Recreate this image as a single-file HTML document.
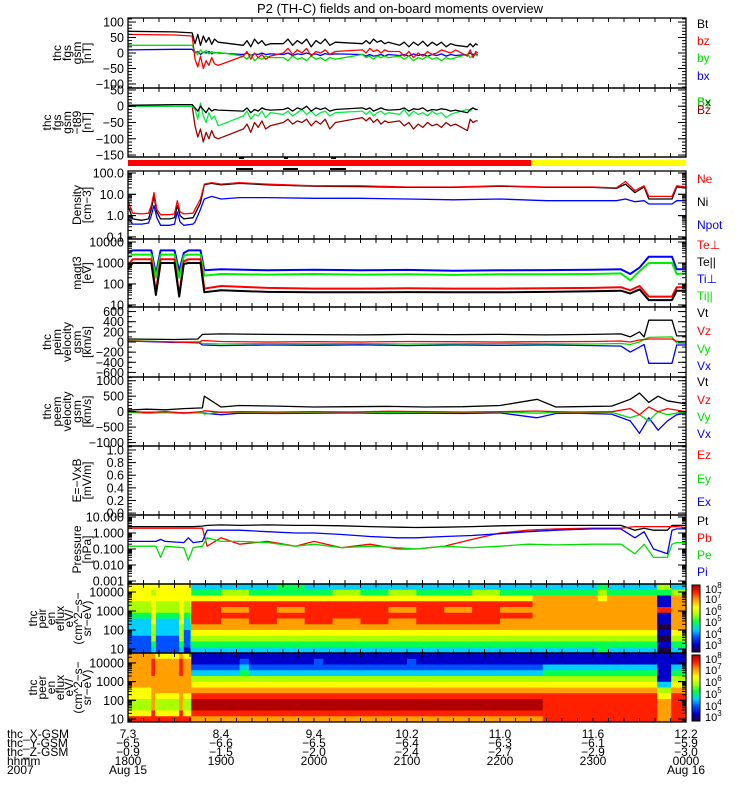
<!DOCTYPE html>
<html><head><meta charset="utf-8"><title>P2 (TH-C) overview</title>
<style>
html,body{margin:0;padding:0;background:#fff;}
svg{display:block;font-family:"Liberation Sans",sans-serif;}
</style></head>
<body>
<svg id="chart" width="750" height="800" viewBox="0 0 750 800" xmlns="http://www.w3.org/2000/svg">
<rect x="0" y="0" width="750" height="800" fill="#fff"/>
<text x="400" y="13" text-anchor="middle" font-size="13">P2 (TH-C) fields and on-board moments overview</text>
</svg>
<script>
// ---------- data (hours after 18:00 UT) ----------
const T1 = [0,0.5,0.69, 0.72,0.75,0.78,0.81,0.84,0.87,0.9,0.93,0.97, 1.24,1.28,1.32,1.36,1.4,1.44,1.48,1.53, 1.67,1.72,1.77,1.82,1.87,1.92,1.97,2.02,2.07,2.12,2.17,2.23, 2.52,2.56,2.6,2.64,2.68,2.72,2.76,2.8, 2.92,2.97,3.02,3.07,3.12,3.17,3.22,3.27,3.32,3.37,3.42,3.47,3.52, 3.65,3.68,3.71,3.74,3.76];
const fgsBt = [70,68,65, 30,60,25,55,35,50,28,45,35, 25,40,20,45,30,40,25,30, 30,45,25,40,30,45,20,40,30,45,25,35, 30,40,30,45,35,40,30,35, 25,35,20,35,25,38,22,35,25,35,20,30,25, 20,30,20,30,25];
const fgsBz = [60,58,55, -20,-45,-10,-50,-25,-40,-15,-35,-40, -10,5,-20,0,-15,-5,-20,-10, 0,15,-5,10,0,15,-10,5,0,10,-5,5, 10,0,15,5,10,0,10,5, 5,-10,5,-15,0,-10,5,-5,0,10,5,0,10, -10,10,-15,5,0];
const fgsBy = [25,25,25, 5,-5,10,0,8,-3,5,0,2, -10,-20,-5,-25,-15,-20,-10,-15, -15,-25,-10,-20,-15,-25,-10,-20,-15,-25,-15,-20, -5,-15,-10,-20,-10,-15,-10,-15, -10,-20,-10,-25,-15,-20,-10,-20,-15,-25,-15,-20,-15, -5,-15,-10,-5,-10];
const fgsBx = [10,12,12, 0,5,-5,3,0,5,-3,2,0, -5,0,-8,-3,-5,0,-5,-3, -5,0,-8,-3,-5,0,-5,-3,-8,-2,-5,-3, -5,-10,-5,-10,-8,-5,-10,-5, -8,-5,-10,-3,-8,-5,-10,-5,-8,-3,-10,-5,-8, -5,0,-5,-3,-5];
const t89Bx = [3,5,5, -5,-15,0,-10,-20,-5,-15,-10,-12, -15,-5,-20,-10,-15,-5,-10,-12, -10,-5,-15,-5,-10,0,-15,-5,-10,-5,-15,-10, -5,-10,-5,-15,-10,-5,-10,-12, -10,-5,-15,-8,-10,-5,-15,-10,-12,-8,-10,-15,-12, -20,-10,-5,-10,-10];
const t89By = [0,0,0, -10,-40,10,-30,-50,-20,-40,-30,-60, -30,-15,-40,-25,-30,-15,-35,-20, -25,-15,-30,-20,-10,-25,-15,-30,-20,-15,-30,-20, -15,-25,-15,-30,-20,-15,-25,-20, -25,-10,-30,-15,-25,-20,-30,-15,-25,-20,-35,-25,-20, -10,-15,-5,-10,-10];
const t89Bz = [0,0,0, -60,-95,-70,-110,-80,-100,-75,-95,-100, -70,-55,-80,-50,-65,-45,-70,-60, -50,-40,-55,-45,-50,-40,-60,-45,-55,-40,-70,-50, -35,-45,-35,-50,-40,-55,-45,-50, -45,-60,-50,-70,-55,-65,-50,-60,-55,-65,-50,-60,-55, -75,-40,-50,-45,-45];

const T3 = [0,0.05,0.15,0.22,0.25,0.28,0.31,0.35,0.45,0.5,0.53,0.56,0.6,0.7,0.72,0.78,0.82,0.9,1.0,1.2,1.5,2.0,2.5,3.0,3.5,4.0,4.5,5.0,5.25,5.35,5.45,5.55,5.6,5.85,5.9,6.0];
const densNe = [5,1.3,1.2,1.3,3,12,2,1.1,1.1,1.2,5,1.5,1.2,1.3,2,6,30,35,30,35,30,25,25,22,22,25,22,22,20,40,15,25,8,8,25,22];
const densNi = [3,0.7,0.6,0.7,2,8,1.5,0.7,0.7,0.8,3,1,0.7,0.8,1.2,4,28,33,28,33,28,24,23,21,21,24,21,21,19,30,12,22,6,6,22,20];
const densNpot = [0.8,0.4,0.4,0.45,1,3,0.8,0.35,0.35,0.4,1.5,0.5,0.35,0.4,0.5,2,6,8,6,7,7,6.5,6.5,6,5.5,6,5,5,5,6,4.5,5,3.5,3.5,5,5];

const T4 = [0,0.05,0.25,0.3,0.35,0.5,0.55,0.6,0.65,0.78,0.82,1.0,1.5,2.0,2.5,3.0,3.5,4.0,4.5,5.0,5.3,5.4,5.5,5.6,5.85,5.9,6.0];
const tempTiPerp = [3000,4000,4000,300,4000,4000,400,3000,4000,4000,450,500,450,480,450,470,430,450,460,480,500,300,600,2000,2000,500,500];
const tempTiPar = [2000,2500,2500,200,2500,2500,200,2200,2500,2500,250,300,280,300,280,290,270,290,290,300,320,150,400,1000,1000,300,320];
const tempTePerp = [800,1500,1500,40,1500,1500,30,1200,1500,1500,60,80,65,60,60,62,60,60,62,65,70,50,80,25,25,70,70];
const tempTePar = [500,1000,1000,30,1000,1000,25,900,1000,1000,40,50,42,40,40,41,40,40,42,45,48,35,55,17,17,48,48];

const T5 = [0,0.5,0.75,0.8,1.0,1.5,2.0,2.5,3.0,3.5,4.0,4.5,5.0,5.3,5.4,5.5,5.55,5.6,5.85,5.9,6.0];
const peimVt = [60,50,60,150,160,150,145,140,150,145,150,140,150,160,100,200,100,430,430,120,120];
const peimVz = [20,0,-20,30,10,0,5,0,10,5,0,5,10,20,0,40,50,60,60,10,10];
const peimVy = [30,0,10,-30,-40,-30,-35,-30,-40,-35,-30,-35,-40,-30,-50,0,50,90,100,-20,-30];
const peimVx = [20,-10,0,-60,-70,-60,-65,-55,-70,-60,-65,-60,-70,-80,-200,-100,-50,-420,-420,-60,-60];

const T6 = [0,0.2,0.4,0.6,0.8,0.82,1.0,1.2,1.6,2.0,2.4,2.8,3.2,3.6,4.0,4.4,4.6,4.8,5.2,5.4,5.5,5.6,5.7,5.8,5.9,6.0];
const peemVt = [50,80,60,100,120,500,150,200,180,150,160,170,150,160,200,400,150,160,180,400,600,300,500,350,300,250];
const peemVz = [20,-30,0,-40,0,30,-20,0,-10,0,-10,10,0,-10,0,20,0,-10,0,100,-100,150,0,100,50,0];
const peemVy = [-20,-50,-30,-60,-20,-80,-10,-20,-30,-20,-10,-30,-20,-20,-10,-50,-20,-30,-20,-200,-100,-300,0,-100,-50,-20];
const peemVx = [0,-20,-10,-40,-30,-50,-100,-50,-60,-50,-40,-60,-50,-60,-40,-200,-60,-50,-80,-300,-700,-200,-600,-300,-100,-50];

const T8 = [0,0.3,0.35,0.4,0.6,0.65,0.7,0.8,0.85,1.0,1.2,1.5,1.8,2.0,2.3,2.6,2.9,3.1,3.4,3.7,4.0,4.3,4.6,5.0,5.3,5.45,5.55,5.65,5.8,5.85,5.9,6.0];
const presPt = [2.5,2.5,2.5,2.5,2.5,2.5,2.5,2.7,3,3.2,3,3.2,3,3,2.8,2.5,2.3,2.2,2.3,2.5,2.8,3,3,3,3,1.5,2,1.5,1.5,3,3,3];
const presPb = [2,2,2,2,2,2,2,2,0.15,0.5,0.2,0.3,0.15,0.3,0.12,0.2,0.1,0.1,0.15,0.4,1,1.5,1.8,2,2,2.5,2.5,2.5,2.5,2.5,2.5,2.2];
const presPe = [0.15,0.15,0.03,0.15,0.12,0.02,0.12,0.15,0.5,0.3,0.3,0.25,0.15,0.2,0.12,0.15,0.12,0.1,0.15,0.12,0.15,0.2,0.18,0.2,0.2,0.05,0.2,0.03,0.03,0.2,0.25,0.25];
const presPi = [0.3,0.3,0.4,0.3,0.25,0.5,0.25,0.3,1.5,1.5,1.5,1.2,1,1,0.8,0.6,0.5,0.5,0.6,0.7,0.9,1.2,1.5,1.8,1.8,0.5,1.2,0.1,0.05,1.5,1.8,1.8];

// spectrogram segments: start time, profile (top=high energy -> bottom), color level 0..9
const ionSegT = [0,0.25,0.3,0.55,0.6,0.67,0.68,1.0,1.3,1.6,1.9,2.2,2.5,2.8,3.1,3.4,3.7,4.0,4.35,5.05,5.15,5.69,5.84];
const ionSegP = ["666554333222","656666655543","666554333222","666666655543","666554332221","666655544433","346888876543","356878776543","346888876543","446878776543","346888876543","356888776543","346888876543","356878776543","346888876543","346878876543","356888876543","346878776543","347777776543","456777776544","347777776543","541181101010","357777776543"];
const eleSegT = [0,0.25,0.29,0.55,0.59,0.68,1.2,1.3,2.0,2.1,3.0,3.1,4.46,5.69,5.84];
const eleSegP = ["777777665568","788877777788","677777765568","788877777788","677777765568","112356789987","123456789987","112356789987","122356789987","112356789987","122356789987","112356789987","113456788888","111113567777","113456788888"];

const tickX = ["7.3","8.4","9.4","10.2","11.0","11.6","12.2"];
const tickY = ["−6.5","−6.6","−6.5","−6.4","−6.3","−6.1","−5.9"];
const tickZ = ["−0.9","−1.5","−2.0","−2.4","−2.7","−2.9","−3.0"];
const tickHHMM = ["1800","1900","2000","2100","2200","2300","0000"];

// ---------- rendering ----------
const NS = "http://www.w3.org/2000/svg";
const svg = document.getElementById('chart');
const L = 128, R = 686, HOUR = (R - L) / 6;
function X(t){ return L + t * HOUR; }
function mk(tag, attrs, parent){ const e = document.createElementNS(NS, tag); for (const k in attrs) e.setAttribute(k, attrs[k]); (parent||svg).appendChild(e); return e; }
function linAxis(lo,hi,top,bot){ return v => bot - (v-lo)/(hi-lo)*(bot-top); }
function logAxis(lo,hi,top,bot){ const a=Math.log10(lo), b=Math.log10(hi); return v => bot - (Math.log10(v)-a)/(b-a)*(bot-top); }
const CM = ["#200040","#0000c8","#0050ff","#00d0ff","#00ff50","#a8ff00","#ffff00","#ffa000","#ff2000","#b00000"];

const panels = [
 {name:'fgs-gsm', top:18, bot:88, type:'lin', lo:-113, hi:113, labels:[[100,'100'],[50,'50'],[0,'0'],[-50,'−50'],[-100,'−100']], minor:10, title:['thc','fgs','gsm','[nT]']},
 {name:'fgs-gsm-t89', top:88, bot:157, type:'lin', lo:-156, hi:56, labels:[[50,'50'],[0,'0'],[-50,'−50'],[-100,'−100'],[-150,'−150']], minor:10, title:['thc','fgs','gsm','−t89','[nT]']},
 {name:'density', top:171, bot:239, type:'log', lo:0.08, hi:124, labels:[[100,'100.0'],[10,'10.0'],[1,'1.0'],[0.1,'0.1']], title:['Density','[cm−3]']},
 {name:'temperature', top:239, bot:307, type:'log', lo:8, hi:13900, labels:[[10000,'10000'],[1000,'1000'],[100,'100'],[10,'10']], title:['magt3','[eV]']},
 {name:'peim-velocity', top:307, bot:377, type:'lin', lo:-690, hi:690, labels:[[600,'600'],[400,'400'],[200,'200'],[0,'0'],[-200,'−200'],[-400,'−400'],[-600,'−600']], minor:100, title:['thc','peim','velocity','gsm','[km/s]']},
 {name:'peem-velocity', top:377, bot:446, type:'lin', lo:-1110, hi:1120, labels:[[1000,'1000'],[500,'500'],[0,'0'],[-500,'−500'],[-1000,'−1000']], minor:100, title:['thc','peem','velocity','gsm','[km/s]']},
 {name:'e-field', top:446, bot:515, type:'lin', lo:-0.03, hi:1.063, labels:[[1,'1.0'],[0.8,'0.8'],[0.6,'0.6'],[0.4,'0.4'],[0.2,'0.2'],[0,'0.0']], minor:0.05, title:['E=−VxB','[mV/m]']},
 {name:'pressure', top:515, bot:584, type:'log', lo:0.00065, hi:13.3, labels:[[10,'10.000'],[1,'1.000'],[0.1,'0.100'],[0.01,'0.010'],[0.001,'0.001']], title:['Pressure','[nPa]']},
 {name:'ion-spectrogram', top:584, bot:653, type:'log', lo:6.2, hi:26300, labels:[[10000,'10000'],[1000,'1000'],[100,'100'],[10,'10']], title:['thc','peir','en','eflux','eV/','(cm^2−s−','sr−eV)']},
 {name:'electron-spectrogram', top:653, bot:722, type:'log', lo:6.9, hi:34000, labels:[[10000,'10000'],[1000,'1000'],[100,'100'],[10,'10']], title:['thc','peer','en','eflux','eV/','(cm^2−s−','sr−eV)']}
];
panels.forEach(p => { p.y = p.type==='lin' ? linAxis(p.lo,p.hi,p.top,p.bot) : logAxis(p.lo,p.hi,p.top,p.bot); });

// spectrograms
function drawSpec(p, segT, segP, nm){
  const g = mk('g', {});
  
  
  for (let i=0;i<segT.length;i++){
    const x0 = X(segT[i]), x1 = i+1<segT.length ? X(segT[i+1]) : R;
    const prof = segP[i], n = prof.length, h = (p.bot-p.top)/n;
    for (let r=0;r<n;r++){
      const c = mk('rect', {x:x0.toFixed(2), y:(p.top+r*h).toFixed(2), width:(x1-x0+0.4).toFixed(2), height:(h+0.4).toFixed(2), fill:CM[+prof[r]]}, g);
      
      
    }
  }
}
drawSpec(panels[8], ionSegT, ionSegP, 'ion-eflux-heatmap');
drawSpec(panels[9], eleSegT, eleSegP, 'electron-eflux-heatmap');

// series
function series(p, T, V, color, nm, w){
  const pts = T.map((t,i)=> X(t).toFixed(1)+','+p.y(V[i]).toFixed(1)).join(' ');
  const e = mk('polyline', {points:pts, fill:'none', stroke:color, 'stroke-width':w||1.3, 'stroke-linejoin':'round'});
  
  
}
const P = panels;
series(P[0],T1,fgsBx,'#0000ff','bx-line'); series(P[0],T1,fgsBy,'#00e000','by-line'); series(P[0],T1,fgsBz,'#ff0000','bz-line'); series(P[0],T1,fgsBt,'#000','bt-line');
series(P[1],T1,t89Bz,'#990000','t89-bz-line'); series(P[1],T1,t89By,'#00ee40','t89-by-line'); series(P[1],T1,t89Bx,'#000','t89-bx-line');
series(P[2],T3,densNpot,'#0000ff','npot-line'); series(P[2],T3,densNi,'#000','ni-line'); series(P[2],T3,densNe,'#ff0000','ne-line');
series(P[3],T4,tempTiPerp,'#0000ff','ti-perp-line',2); series(P[3],T4,tempTiPar,'#00ee00','ti-par-line',2); series(P[3],T4,tempTePerp,'#ff0000','te-perp-line',2); series(P[3],T4,tempTePar,'#000','te-par-line',2);
series(P[4],T5,peimVx,'#0000ff','peim-vx-line'); series(P[4],T5,peimVy,'#00e000','peim-vy-line'); series(P[4],T5,peimVz,'#ff0000','peim-vz-line'); series(P[4],T5,peimVt,'#000','peim-vt-line');
series(P[5],T6,peemVx,'#0000ff','peem-vx-line'); series(P[5],T6,peemVy,'#00e000','peem-vy-line'); series(P[5],T6,peemVz,'#ff0000','peem-vz-line'); series(P[5],T6,peemVt,'#000','peem-vt-line');
series(P[7],T8,presPt,'#000','pt-line'); series(P[7],T8,presPb,'#ff0000','pb-line'); series(P[7],T8,presPe,'#00e000','pe-line'); series(P[7],T8,presPi,'#0000ff','pi-line');

// frames, ticks, labels
panels.forEach(p => {
  const g = mk('g', {});
  
  
  mk('rect', {x:L, y:p.top, width:R-L, height:p.bot-p.top, fill:'none', stroke:'#000', 'stroke-width':1.3}, g);
  for (let k=0;k<=36;k++){ const x=L+k*HOUR/6;
    mk('line',{x1:x,y1:p.top,x2:x,y2:p.top+4,stroke:'#000'},g); mk('line',{x1:x,y1:p.bot,x2:x,y2:p.bot-4,stroke:'#000'},g); }
  const tick=(y,len)=>{ if(y<p.top-0.5||y>p.bot+0.5) return; mk('line',{x1:L,y1:y,x2:L+len,y2:y,stroke:'#000'},g); mk('line',{x1:R,y1:y,x2:R-len,y2:y,stroke:'#000'},g); };
  if (p.type==='lin'){
    for (let v=Math.ceil(p.lo/p.minor)*p.minor; v<=p.hi; v+=p.minor) tick(p.y(v),4);
  } else {
    for (let d=Math.floor(Math.log10(p.lo)); d<=Math.ceil(Math.log10(p.hi)); d++)
      for (let m=1;m<10;m++){ const v=m*Math.pow(10,d); if(v>=p.lo&&v<=p.hi) tick(p.y(v), m===1?8:4); }
  }
  p.labels.forEach(([v,s]) => { tick(p.y(v),8);
    const t = mk('text',{x:124,y:(p.y(v)+4.5).toFixed(1),'text-anchor':'end','font-size':12.5},g); t.textContent=s; });
  const n=p.title.length, cy=(p.top+p.bot)/2, sp = n>5 ? 9 : 10;
  p.title.forEach((s,i)=>{ const bx = 91 - (n-1-i)*sp;
    const t = mk('text',{x:bx,y:cy,'text-anchor':'middle','font-size':12,transform:`rotate(-90 ${bx} ${cy})`},g); t.textContent=s; });
});

// mode bar
const bar = mk('g',{});


mk('line',{x1:L,y1:157,x2:R,y2:157,stroke:'#000','stroke-width':1.3},bar);
mk('rect',{x:L,y:160,width:531-L,height:6,fill:'#ff0000'},bar);
mk('rect',{x:531,y:160,width:R-531,height:6,fill:'#ffff00'},bar);
[[239,244],[284,288],[331,336]].forEach(a=>mk('rect',{x:a[0],y:157,width:a[1]-a[0],height:2,fill:'#000'},bar));
[[236,253],[283,298],[330,346]].forEach(a=>mk('rect',{x:a[0],y:168,width:a[1]-a[0],height:2,fill:'#000'},bar));

// right legend labels
const legend = [
 ['Bt','#000',28],['bz','#ff0000',45],['by','#00e000',62],['bx','#0000ff',80],
 ['Bx','#000',106],['By','#00e000',106],['Bz','#990000',114],
 ['Ne','#ff0000',183],['Ni','#000',206],['Npot','#0000ff',229],
 ['Te⊥','#ff0000',249],['Te||','#000',266],['Ti⊥','#0000ff',283],['Ti||','#00e000',300],
 ['Vt','#000',317],['Vz','#ff0000',335],['Vy','#00e000',353],['Vx','#0000ff',370],
 ['Vt','#000',386],['Vz','#ff0000',404],['Vy','#00e000',421],['Vx','#0000ff',438],
 ['Ez','#ff0000',459],['Ey','#00e000',483],['Ex','#0000ff',506],
 ['Pt','#000',525],['Pb','#ff0000',542],['Pe','#00e000',559],['Pi','#0000ff',576]];
legend.forEach(([s,c,y])=>{ const t=mk('text',{x:697,y:y,fill:c,'font-size':12}); t.textContent=s;
  
   });

// colorbars
const defs = mk('defs',{});
const grad = mk('linearGradient',{id:'cbar',x1:0,y1:1,x2:0,y2:0},defs);
CM.forEach((c,i)=>mk('stop',{offset:(i/(CM.length-1)).toFixed(3),'stop-color':c},grad));
[[585,652,[588,598,610,621,633,644]],[655,721,[658,669,681,693,705,716]]].forEach((cb,k)=>{
  const g=mk('g',{});
  
  
  mk('rect',{x:692,y:cb[0],width:8,height:cb[1]-cb[0],fill:'url(#cbar)',stroke:'#000'},g);
  [8,7,6,5,4,3].forEach((e,i)=>{ const t=mk('text',{x:705,y:cb[2][i]+5,'font-size':11},g);
    t.textContent='10'; const s=mk('tspan',{dy:-5,'font-size':8},t); s.textContent=e; });
});

// bottom annotation
const ann = mk('g',{});


const rows=[['thc_X-GSM',tickX,738],['thc_Y-GSM',tickY,747],['thc_Z-GSM',tickZ,756],['hhmm',tickHHMM,765]];
rows.forEach(([nm,arr,y])=>{ const t=mk('text',{x:7,y:y,'font-size':12},ann); t.textContent=nm;
  arr.forEach((s,i)=>{ const u=mk('text',{x:X(i),y:y,'font-size':12,'text-anchor':'middle'},ann); u.textContent=s; }); });
[['2007',7,'start'],['Aug 15',X(0),'middle'],['Aug 16',X(6),'middle']].forEach(([s,x,a])=>{ const t=mk('text',{x:x,y:774,'font-size':12,'text-anchor':a},ann); t.textContent=s; });
</script>
</body></html>
